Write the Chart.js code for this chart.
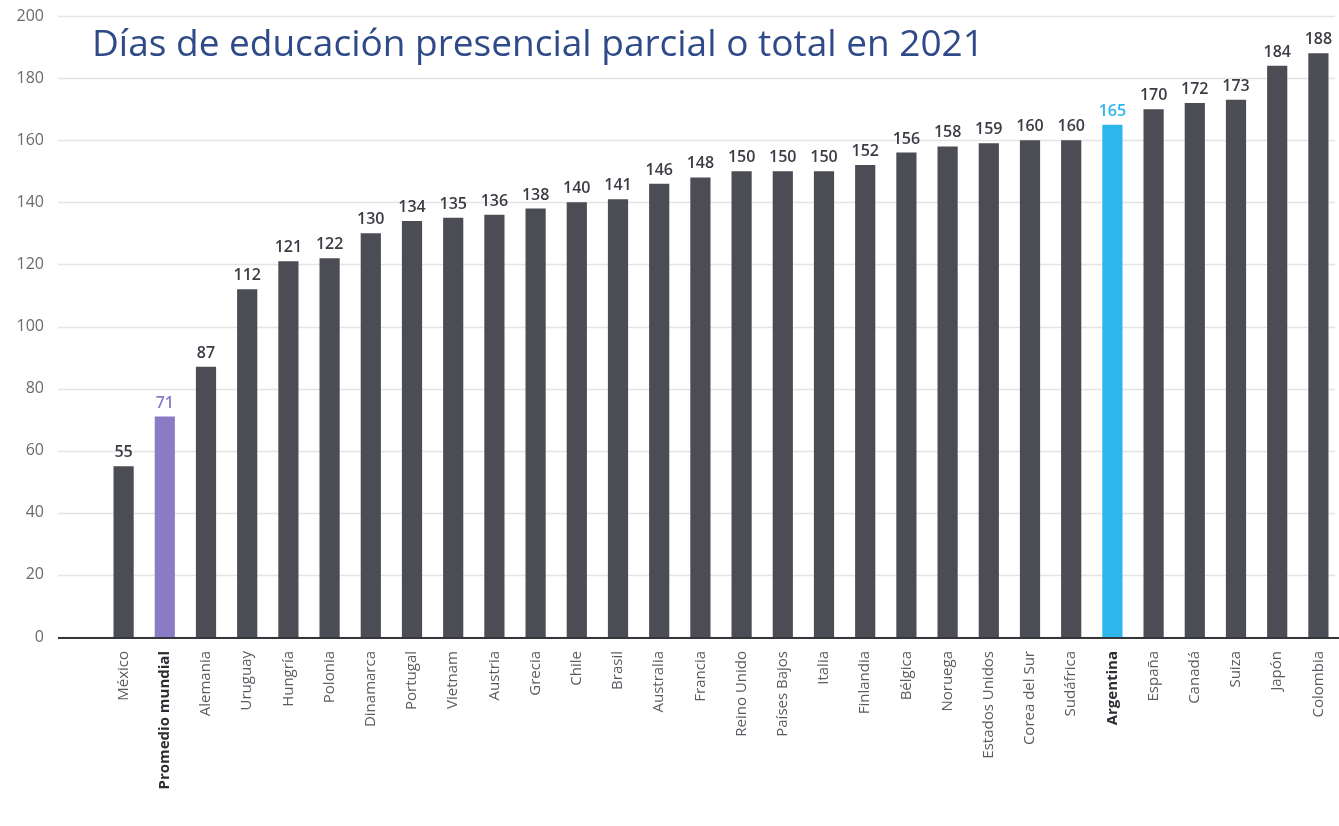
<!DOCTYPE html>
<html lang="es">
<head>
<meta charset="utf-8">
<title>Días de educación presencial</title>
<script src="https://cdn.jsdelivr.net/npm/chart.js@4/dist/chart.umd.min.js"></script>
<style>
  html, body { margin: 0; padding: 0; background: #fff; }
  #wrap { width: 1339px; height: 826px; position: relative; }
</style>
</head>
<body>
<div id="wrap"><canvas id="dias" width="1339" height="826"></canvas></div>
<script>
const paises = [
    "México", "Promedio mundial", "Alemania", "Uruguay", "Hungría", "Polonia",
    "Dinamarca", "Portugal", "Vietnam", "Austria", "Grecia", "Chile", "Brasil",
    "Australia", "Francia", "Reino Unido", "Países Bajos", "Italia", "Finlandia",
    "Bélgica", "Noruega", "Estados Unidos", "Corea del Sur", "Sudáfrica",
    "Argentina", "España", "Canadá", "Suiza", "Japón", "Colombia",
];
const dias = [
    55, 71, 87, 112, 121, 122, 130, 134, 135, 136, 138, 140, 141, 146, 148,
    150, 150, 150, 152, 156, 158, 159, 160, 160, 165, 170, 172, 173, 184, 188,
];
const yTicks = [0, 20, 40, 60, 80, 100, 120, 140, 160, 180, 200];
const titulo = "Días de educación presencial parcial o total en 2021";

const GRIS = "#4b4c54";
const PROMEDIO = "#8a7cc4";
const ARGENTINA = "#2db6ec";

const colorFor = (i) => {
    if (paises[i] === "Promedio mundial") return PROMEDIO;
    if (paises[i] === "Argentina") return ARGENTINA;
    return GRIS;
};
const labelColorFor = (i) => {
    if (paises[i] === "Promedio mundial") return PROMEDIO;
    if (paises[i] === "Argentina") return ARGENTINA;
    return "#3b3c44";
};
const destacado = (i) => paises[i] === "Promedio mundial" || paises[i] === "Argentina";

// horizontal grid lines run past the chart area, under the y labels
const gridLines = {
    id: "gridLines",
    beforeDatasetsDraw(chart) {
        const { ctx, chartArea, scales } = chart;
        ctx.save();
        yTicks.forEach((v) => {
            const y = Math.round(scales.y.getPixelForValue(v)) + 0.5;
            ctx.beginPath();
            ctx.strokeStyle = "#e4e4e6";
            ctx.lineWidth = 1.5;
            ctx.moveTo(58, y);
            ctx.lineTo(chartArea.right - 4, y);
            ctx.stroke();
        });
        ctx.restore();
    },
    afterDatasetsDraw(chart) {
        const { ctx, chartArea, scales } = chart;
        const y = scales.y.getPixelForValue(0);
        ctx.save();
        ctx.beginPath();
        ctx.strokeStyle = "#35363c";
        ctx.lineWidth = 2;
        ctx.moveTo(58, y + 1);
        ctx.lineTo(chartArea.right, y + 1);
        ctx.stroke();
        ctx.restore();
    },
};

// value on top of each bar
const valueLabels = {
    id: "valueLabels",
    afterDatasetsDraw(chart) {
        const { ctx } = chart;
        const meta = chart.getDatasetMeta(0);
        ctx.save();
        ctx.font = "600 16px 'Open Sans'";
        ctx.textAlign = "center";
        ctx.textBaseline = "alphabetic";
        meta.data.forEach((bar, i) => {
            ctx.fillStyle = labelColorFor(i);
            ctx.fillText(String(dias[i]), bar.x, bar.y - 9);
        });
        ctx.restore();
    },
};

const tituloPlugin = {
    id: "tituloPlugin",
    afterDraw(chart) {
        const { ctx } = chart;
        ctx.save();
        ctx.font = "37px 'Open Sans'";
        ctx.fillStyle = "#2f4a88";
        ctx.textAlign = "left";
        ctx.textBaseline = "alphabetic";
        ctx.fillText(titulo, 92, 56);
        ctx.restore();
    },
};

const ctx = document.getElementById("dias").getContext("2d");
new Chart(ctx, {
    type: "bar",
    data: {
        labels: paises,
        datasets: [
            {
                data: dias,
                backgroundColor: dias.map((_, i) => colorFor(i)),
                barPercentage: 0.49,
                categoryPercentage: 1,
                borderWidth: 0,
            },
        ],
    },
    options: {
        responsive: false,
        animation: false,
        events: [],
        layout: { padding: { top: 16, right: 0, left: 0, bottom: 0 } },
        plugins: {
            legend: { display: false },
            tooltip: { enabled: false },
        },
        scales: {
            x: {
                grid: { display: false, drawTicks: false },
                border: { display: false },
                afterFit: (scale) => {
                    scale.height = 826 - 637;
                    scale.paddingLeft = 0;
                    scale.paddingRight = 0;
                    scale.paddingTop = 0;
                    scale.paddingBottom = 0;
                },
                ticks: {
                    minRotation: 90,
                    maxRotation: 90,
                    autoSkip: false,
                    padding: 14,
                    color: (c) => (destacado(c.index) ? "#2c2d33" : "#5a5b62"),
                    font: (c) => ({
                        family: "'Open Sans'",
                        size: 15,
                        weight: destacado(c.index) ? "bold" : "normal",
                    }),
                },
            },
            y: {
                min: 0,
                max: 200,
                grid: { display: false, drawTicks: false },
                border: { display: false },
                afterFit: (scale) => {
                    scale.width = 103;
                    scale.paddingTop = 0;
                    scale.paddingBottom = 0;
                },
                afterBuildTicks: (scale) => {
                    scale.ticks = yTicks.map((v) => ({ value: v }));
                },
                ticks: {
                    padding: 59,
                    color: "#6a6b70",
                    font: { family: "'Open Sans'", size: 16 },
                },
            },
        },
    },
    plugins: [gridLines, valueLabels, tituloPlugin],
});
</script>
</body>
</html>
